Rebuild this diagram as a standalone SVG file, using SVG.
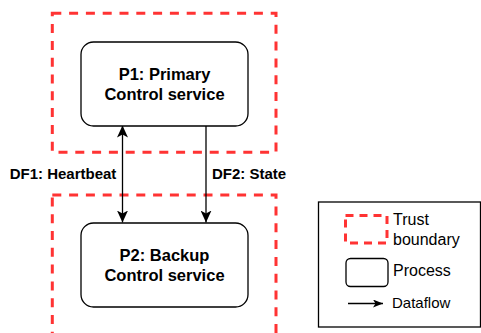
<svg xmlns="http://www.w3.org/2000/svg" width="481" height="333" viewBox="0 0 481 333">
<style>
.tb{fill:none;stroke:#FF3333;stroke-width:3;stroke-dasharray:9 7.8}
.node{fill:#FFFFFF;stroke:#000000;stroke-width:1.3}
.nt{font-family:"Liberation Sans",Arial,sans-serif;font-weight:bold;font-size:16.5px;fill:#000000;text-anchor:middle}
.lbl{font-family:"Liberation Sans",Arial,sans-serif;font-weight:bold;font-size:15px;fill:#000000;text-anchor:middle}
.leg{font-family:"Liberation Sans",Arial,sans-serif;font-size:16px;fill:#000000}
.flow{fill:none;stroke:#000000;stroke-width:1.3}
</style>
<defs>
<marker id="arr" viewBox="0 0 12 11" refX="12" refY="5.5" markerWidth="12" markerHeight="11" markerUnits="userSpaceOnUse" orient="auto-start-reverse">
<path d="M0,0 L12,5.5 L0,11 L3,5.5 Z" fill="#000000"/>
</marker>
<marker id="arrs" viewBox="0 0 10 8" refX="10" refY="4" markerWidth="10" markerHeight="8" markerUnits="userSpaceOnUse" orient="auto">
<path d="M0,0 L10,4 L0,8 L2.5,4 Z" fill="#000000"/>
</marker>
</defs>
<g id="boundary-top"><rect class="tb" x="52.3" y="13.3" width="223.7" height="139"/></g>
<g id="boundary-bottom"><rect class="tb" x="52.3" y="195" width="223.7" height="160"/></g>
<g id="connectors">
<line class="flow" x1="122.5" y1="125.5" x2="122.5" y2="222.5" marker-start="url(#arr)" marker-end="url(#arr)"/>
<line class="flow" x1="206" y1="125.5" x2="206" y2="222.5" marker-end="url(#arr)"/>
<text class="lbl" x="63" y="178.5">DF1: Heartbeat</text>
<text class="lbl" x="249" y="178.5">DF2: State</text>
</g>
<g id="p1">
<rect class="node" x="81" y="42" width="167" height="84" rx="12.5" ry="12.5"/>
<text class="nt" x="164.5" y="79.8">P1: Primary</text>
<text class="nt" x="164.5" y="99.8">Control service</text>
</g>
<g id="p2">
<rect class="node" x="81" y="223" width="167" height="84" rx="12.5" ry="12.5"/>
<text class="nt" x="164.5" y="260.8">P2: Backup</text>
<text class="nt" x="164.5" y="280.8">Control service</text>
</g>
<g id="legend">
<rect x="318.5" y="202" width="162" height="125" fill="#FFFFFF" stroke="#000000" stroke-width="1.3"/>
<rect x="345.5" y="215.5" width="41.5" height="27.5" fill="none" stroke="#FF3333" stroke-width="3" stroke-dasharray="8 6"/>
<text class="leg" x="393" y="225">Trust</text>
<text class="leg" x="393" y="245">boundary</text>
<rect x="346" y="258.5" width="42" height="28" rx="4.5" ry="4.5" class="node"/>
<text class="leg" x="393" y="276">Process</text>
<line class="flow" x1="348" y1="303.5" x2="383" y2="303.5" marker-end="url(#arrs)"/>
<text class="leg" x="392" y="307.5" style="font-size:15px">Dataflow</text>
</g>
</svg>
